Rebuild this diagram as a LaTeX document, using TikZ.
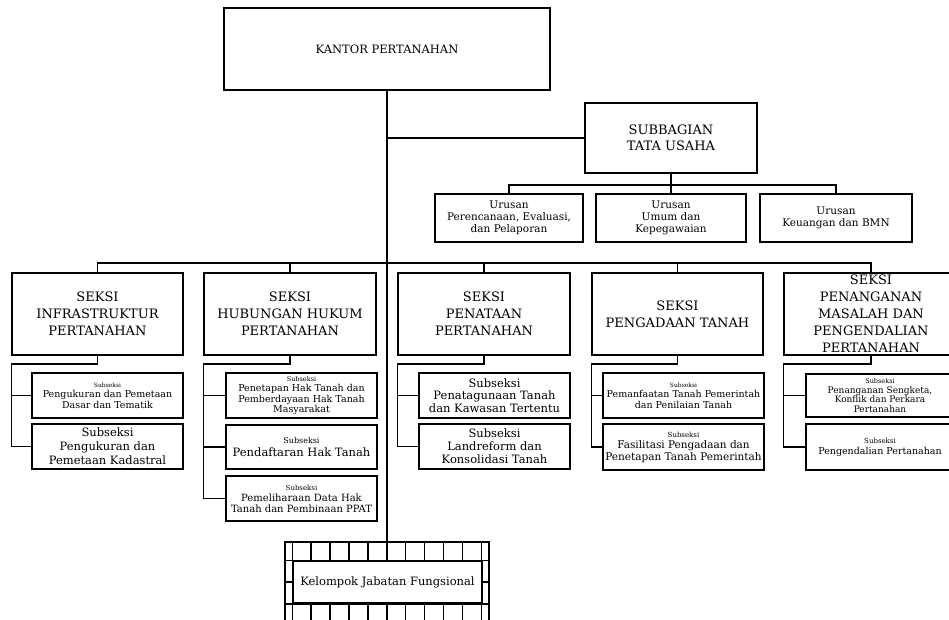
\documentclass[tikz,border=0pt]{standalone}
\usepackage{fontspec}
\setmainfont{DejaVu Serif}
\usepackage{tikz}
\usetikzlibrary{positioning}

\newcommand{\ukuran}[2]{\fontsize{#1}{#2}\selectfont}

\tikzset{
  unit/.style={draw, line width=1.5pt, align=center, inner sep=1pt},
  kepala/.style={unit, minimum width=326, minimum height=82, font=\ukuran{11.5}{14}},
  seksi/.style={unit, minimum width=172, minimum height=82, font=\ukuran{13}{17}},
  urusan/.style={unit, minimum width=150, minimum height=48, font=\ukuran{10.5}{12}},
  subseksi/.style={unit, minimum width=151, minimum height=45},
  garis/.style={line width=1.5pt},
}

\begin{document}
\begin{tikzpicture}[x=1pt,y=-1pt]
  \useasboundingbox (0,0) rectangle (949,620);
  \clip (0,0) rectangle (949,620);

  % pimpinan dan tata usaha
  \node[kepala] (kantor) at (387,49) {KANTOR PERTANAHAN};
  \node[unit, minimum width=172, minimum height=70, font=\ukuran{13}{16}] (tu) at (671,138) {SUBBAGIAN\\TATA USAHA};
  \node[urusan, minimum width=148] (ur1) at (509,218) {Urusan\\Perencanaan, Evaluasi,\\dan Pelaporan};
  \node[urusan] (ur2) at (671,218) {Urusan\\Umum dan\\Kepegawaian};
  \node[urusan, minimum width=152] (ur3) at (836,218) {Urusan\\Keuangan dan BMN};

  % seksi
  \node[seksi, minimum width=171] (sk1) at (97.5,314) {SEKSI\\INFRASTRUKTUR\\PERTANAHAN};
  \node[seksi] (sk2) at (290,314) {SEKSI\\HUBUNGAN HUKUM\\PERTANAHAN};
  \node[seksi] (sk3) at (484,314) {SEKSI\\PENATAAN\\PERTANAHAN};
  \node[seksi, minimum width=171] (sk4) at (677.5,314) {SEKSI\\PENGADAAN TANAH};
  \node[seksi, minimum width=174] (sk5) at (871,314) {SEKSI\\PENANGANAN\\MASALAH DAN\\PENGENDALIAN\\PERTANAHAN};

  % subseksi
  \node[subseksi, font=\ukuran{9.5}{10.5}] (infA) at (107.5,395.5) {{\ukuran{6}{7}Subseksi}\\Pengukuran dan Pemetaan\\Dasar dan Tematik};
  \node[subseksi, font=\ukuran{11.5}{14}] (infB) at (107.5,446.5) {Subseksi\\Pengukuran dan\\Pemetaan Kadastral};
  \node[subseksi, font=\ukuran{9.5}{10.5}] (hhA) at (301.5,395.5) {{\ukuran{6.5}{7}Subseksi}\\Penetapan Hak Tanah dan\\Pemberdayaan Hak Tanah\\Masyarakat};
  \node[subseksi, minimum height=44, font=\ukuran{11.5}{13}] (hhB) at (301.5,447) {{\ukuran{8}{9}Subseksi}\\Pendaftaran Hak Tanah};
  \node[subseksi, font=\ukuran{10}{11}] (hhC) at (301.5,498.5) {{\ukuran{7}{8}Subseksi}\\Pemeliharaan Data Hak\\Tanah dan Pembinaan PPAT};
  \node[subseksi, font=\ukuran{11.5}{12.5}] (ptA) at (494.5,395.5) {Subseksi\\Penatagunaan Tanah\\dan Kawasan Tertentu};
  \node[subseksi, font=\ukuran{11.5}{13}] (ptB) at (494.5,446.5) {Subseksi\\Landreform dan\\Konsolidasi Tanah};
  \node[subseksi, minimum width=161, font=\ukuran{9.5}{10.5}] (pgA) at (683.5,395.5) {{\ukuran{6}{7}Subseksi}\\Pemanfaatan Tanah Pemerintah\\dan Penilaian Tanah};
  \node[subseksi, minimum width=161, minimum height=46, font=\ukuran{10.5}{11.5}] (pgB) at (683.5,447) {{\ukuran{7}{8}Subseksi}\\Fasilitasi Pengadaan dan\\Penetapan Tanah Pemerintah};
  \node[subseksi, minimum width=148, minimum height=43, font=\ukuran{9}{9.5}] (pmA) at (880,395.5) {{\ukuran{6.5}{7}Subseksi}\\Penanganan Sengketa,\\Konflik dan Perkara\\Pertanahan};
  \node[subseksi, minimum width=148, minimum height=46, font=\ukuran{9.5}{11}] (pmB) at (880,447) {{\ukuran{7}{8}Subseksi}\\Pengendalian Pertanahan};

  % jabatan fungsional
  \node[unit, minimum width=204, minimum height=80] (kjfbox) at (387,582) {};
  \node[unit, minimum width=189, minimum height=42, font=\ukuran{11.5}{14}] (kjf) at (387.5,582) {Kelompok Jabatan Fungsional};
  \draw[garis] (kjfbox.west |- kjf.north) -- (kjfbox.east |- kjf.north);
  \draw[garis] (kjfbox.west |- kjf.south) -- (kjfbox.east |- kjf.south);
  \draw[garis] (kjfbox.west) -- (kjf.west) (kjf.east) -- (kjfbox.east);
  \foreach \k in {0,...,10}{
    \draw[garis] ([xshift=\k*18.9]kjf.north west) -- ++(0,-19);
    \draw[garis] ([xshift=\k*18.9]kjf.south west) -- ++(0,19);
  }

  % garis komando
  \draw[garis] (kantor.south) -- (kjfbox.north);
  \draw[garis] (tu.west) -- (tu.west -| kantor.south);
  \coordinate (urbar) at (671,185);
  \draw[garis] (tu.south) -- (urbar);
  \draw[garis] (ur1.north) |- (urbar) -| (ur3.north);
  \draw[garis] (urbar) -- (ur2.north);
  \coordinate (skbar) at (388,263);
  \draw[garis] (sk1.north) |- (skbar) -| (sk5.north);
  \foreach \s in {sk2,sk3,sk4}
    \draw[garis] (\s.north) -- (\s.north |- skbar);
  \foreach \s/\z in {sk1/infB, sk2/hhC, sk3/ptB, sk4/pgB, sk5/pmB}
    \draw[garis] (\s.south) -- ++(0,8) -| (\z.west -| \s.west) -- (\z.west);
  \foreach \s/\z in {sk1/infA, sk2/hhA, sk2/hhB, sk3/ptA, sk4/pgA, sk5/pmA}
    \draw[garis] (\z.west -| \s.west) -- (\z.west);
\end{tikzpicture}
\end{document}
